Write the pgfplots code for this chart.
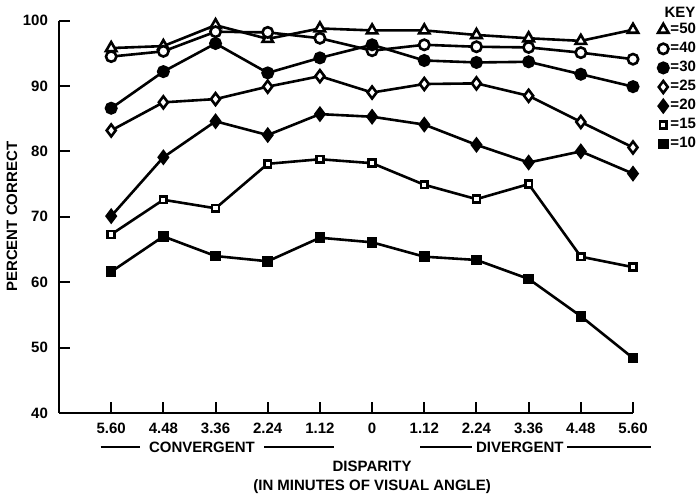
\documentclass[border=0pt]{standalone}
\usepackage{fontspec}
\setmainfont{Liberation Sans}
\usepackage{pgfplots}
\pgfplotsset{compat=1.18}
\newcommand{\lab}{\fontsize{7.5}{9}\selectfont\bfseries}
\begin{document}
\begin{tikzpicture}
\begin{axis}[
  scale only axis,
  width=287pt, height=196.2pt,
  xmin=0, xmax=11, ymin=40, ymax=100,
  axis lines=left,
  axis line style={-, line width=1pt},
  clip=false,
  xtick={1,...,11},
  xticklabels={5.60,4.48,3.36,2.24,1.12,0,1.12,2.24,3.36,4.48,5.60},
  ytick={40,50,...,100},
  tick align=inside,
  major tick length=5.5pt,
  tick style={line width=1pt, black},
  ticklabel style={font=\lab},
  /pgf/number format/assume math mode=true,
  yticklabel style={xshift=-2pt},
  xticklabel style={yshift=-1.5pt},
  legend style={at={(1.043,1.005)}, anchor=north west, draw=none, fill=none,
    inner sep=0pt, font=\lab, row sep=-1.2pt, legend cell align=left,
    nodes={inner xsep=1pt}},
  legend image code/.code={\draw[#1] plot coordinates {(0pt,0pt)};},
  every axis plot/.append style={black, line width=1.3pt, mark options={solid, line width=1pt}},
]
% key 50
\addplot[mark=triangle*, mark size=3pt, mark options={fill=white}] coordinates {
  (1,95.8) (2,96.1) (3,99.3) (4,97.2) (5,98.8) (6,98.5) (7,98.5) (8,97.8) (9,97.3) (10,96.9) (11,98.6)};
% key 40
\addplot[mark=*, mark size=2.6pt, mark options={fill=white}] coordinates {
  (1,94.5) (2,95.3) (3,98.3) (4,98.2) (5,97.3) (6,95.4) (7,96.3) (8,96.0) (9,95.9) (10,95.1) (11,94.1)};
% key 30
\addplot[mark=*, mark size=2.6pt, mark options={fill=black}] coordinates {
  (1,86.6) (2,92.2) (3,96.5) (4,92.0) (5,94.3) (6,96.3) (7,93.9) (8,93.6) (9,93.7) (10,91.8) (11,89.9)};
% key 25
\addplot[mark=diamond*, mark size=3pt, mark options={fill=white}] coordinates {
  (1,83.2) (2,87.5) (3,88.0) (4,89.9) (5,91.5) (6,89.0) (7,90.3) (8,90.4) (9,88.5) (10,84.5) (11,80.6)};
% key 20
\addplot[mark=diamond*, mark size=3pt, mark options={fill=black}] coordinates {
  (1,70.1) (2,79.1) (3,84.6) (4,82.5) (5,85.7) (6,85.3) (7,84.1) (8,81.0) (9,78.3) (10,80.0) (11,76.6)};
% key 15
\addplot[mark=square*, mark size=1.7pt, mark options={fill=white}] coordinates {
  (1,67.3) (2,72.6) (3,71.3) (4,78.1) (5,78.8) (6,78.2) (7,74.9) (8,72.7) (9,75.0) (10,63.9) (11,62.3)};
% key 10
\addplot[mark=square*, mark size=2pt, mark options={fill=black}] coordinates {
  (1,61.6) (2,67.0) (3,64.0) (4,63.2) (5,66.8) (6,66.1) (7,63.9) (8,63.4) (9,60.5) (10,54.8) (11,48.4)};
\legend{=50,=40,=30,=25,=20,=15,=10}

\node[font=\lab] at (axis description cs:1.082,1.022) {KEY};
\node[font=\lab, rotate=90] at (axis cs:-0.9,70) {PERCENT CORRECT};
\node[font=\lab] at ([yshift=-26.5pt]axis cs:6,40) {DISPARITY};
\node[font=\lab] at ([yshift=-37pt]axis cs:6,40) {(IN MINUTES OF VISUAL ANGLE)};
\node[font=\lab] at ([yshift=-17pt]axis cs:2.74,40) {CONVERGENT};
\node[font=\lab] at ([yshift=-17pt]axis cs:8.83,40) {DIVERGENT};
\draw[line width=0.8pt] ([yshift=-17pt]axis cs:0.80,40) -- ([yshift=-17pt]axis cs:1.55,40);
\draw[line width=0.8pt] ([yshift=-17pt]axis cs:3.93,40) -- ([yshift=-17pt]axis cs:5.27,40);
\draw[line width=0.8pt] ([yshift=-17pt]axis cs:6.92,40) -- ([yshift=-17pt]axis cs:7.91,40);
\draw[line width=0.8pt] ([yshift=-17pt]axis cs:9.74,40) -- ([yshift=-17pt]axis cs:11.35,40);
\end{axis}
\pgfresetboundingbox
\path[use as bounding box] (-29.5pt,-41.5pt) rectangle (320.5pt,206.5pt);
\end{tikzpicture}
\end{document}
